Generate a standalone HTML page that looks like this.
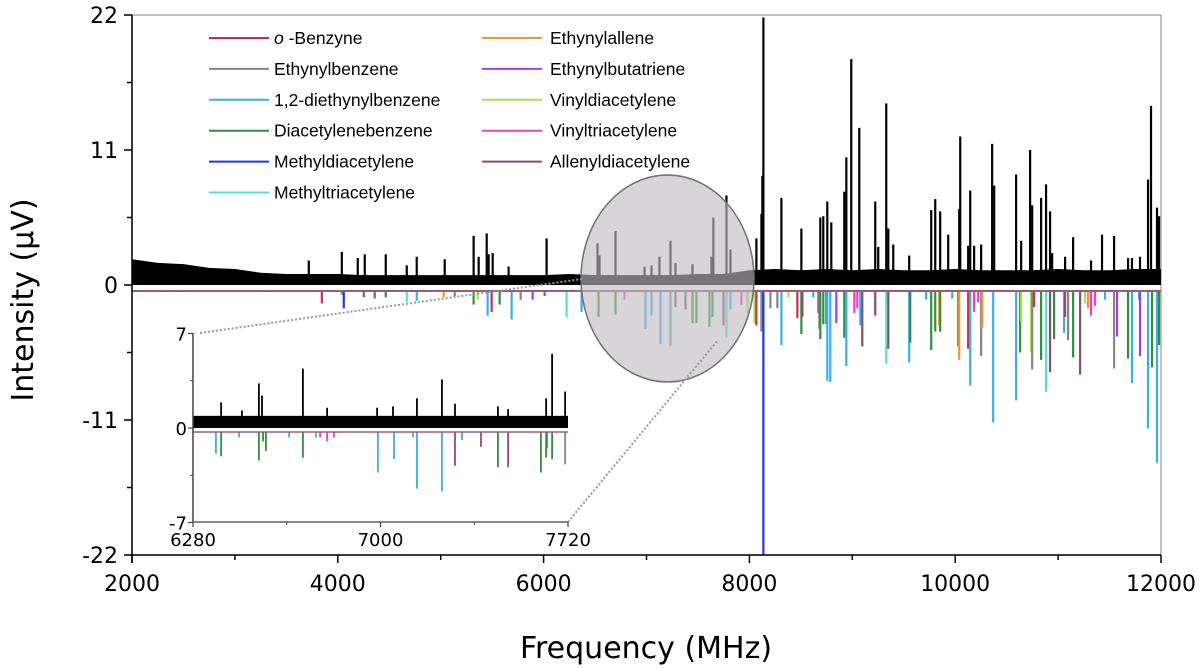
<!DOCTYPE html>
<html><head><meta charset="utf-8"><style>
html,body{margin:0;padding:0;background:#fff;}
svg{display:block;font-family:"Liberation Sans",sans-serif;}
.dj{font-family:"DejaVu Sans",sans-serif;}
</style></head><body>
<svg id="chart" width="1200" height="668" viewBox="0 0 1200 668" xmlns="http://www.w3.org/2000/svg">
<g id="legend"></g>
</svg>
<script>
// ---- data ----
const colorKeys = ["B","E","D","G","M","T","O","P","V","R","A"];
const seriesNames = ["o-Benzyne","Ethynylbenzene","1,2-diethynylbenzene","Diacetylenebenzene","Methyldiacetylene","Methyltriacetylene","Ethynylallene","Ethynylbutatriene","Vinyldiacetylene","Vinyltriacetylene","Allenyldiacetylene"];
const seriesColors = ["#c4314f","#858585","#3aaeea","#2f8f3f","#1f38e6","#52e0c9","#f2952c","#9b40f0","#a6e24c","#f23cc4","#8e4c6c"];
const xTicks = [2000,4000,6000,8000,10000,12000];
const yTicks = [22,11,0,-11,-22];
const insetXTicks = [6280,7000,7720];
const insetYTicks = [7,0,-7];
// noise envelope, every 250 MHz from 2000
const noiseEnv = [2.1,1.8,1.7,1.4,1.3,1.0,0.9,0.9,0.9,0.8,0.8,0.8,0.8,0.8,0.8,0.8,0.8,0.9,0.8,0.8,0.8,0.8,0.9,0.9,1.2,1.3,1.2,1.3,1.2,1.3,1.2,1.2,1.3,1.2,1.2,1.2,1.3,1.2,1.2,1.3,1.3];
const peakFreq = [3718,4039,4194,4262,4466,4670,4767,5039,5320,5369,5447,5466,5505,5660,6029,6524,6544,6699,6981,7049,7126,7233,7282,7447,7631,7650,7777,7816,8068,8117,8126,8136,8311,8505,8689,8718,8757,8796,8922,8942,8990,9068,9223,9252,9330,9350,9398,9553,9767,9806,9854,9932,10039,10049,10126,10146,10184,10252,10359,10379,10592,10641,10728,10748,10835,10883,10922,10942,11068,11146,11320,11427,11544,11680,11718,11796,11874,11903,11961,11981];
const peakInt = [2.0,2.7,2.2,2.5,2.5,1.6,2.3,2.1,4.0,2.3,4.2,2.5,2.6,1.5,3.8,3.4,2.4,4.4,1.5,1.6,2.3,3.6,1.8,1.7,2.3,5.5,7.3,2.9,3.8,5.8,8.9,21.8,7.1,4.6,5.5,5.6,6.8,5.1,7.6,10.4,18.4,12.8,6.8,3.1,14.8,4.6,3.3,2.4,6.1,7.0,6.0,4.1,6.2,12.1,3.2,7.7,3.2,3.3,11.5,8.1,9.0,3.6,11.0,6.5,7.1,8.2,6.0,2.6,2.3,3.9,2.0,4.1,4.0,2.2,2.2,2.3,8.6,14.6,6.3,5.6];
const stickFreq = [2300,2450,3300,3845,4039,4058,4252,4359,4466,4670,4767,5029,5136,5320,5359,5456,5495,5573,5689,5777,5893,6010,6223,6369,6534,6699,6786,6990,7049,7136,7233,7282,7379,7447,7485,7612,7641,7748,7777,7816,7922,7981,8049,8068,8117,8136,8204,8272,8311,8379,8466,8505,8515,8621,8670,8680,8689,8718,8748,8757,8786,8845,8922,8942,9020,9049,9078,9097,9223,9330,9350,9553,9563,9718,9767,9806,9845,9854,9971,10030,10039,10126,10146,10184,10223,10252,10262,10369,10592,10631,10641,10738,10748,10767,10835,10883,10922,10961,11058,11068,11097,11146,11214,11262,11291,11320,11359,11456,11544,11573,11680,11718,11787,11796,11874,11913,11961,11981];
const stickDepth = [0.4,0.4,0.4,1.5,0.8,1.9,1.0,1.1,1.0,1.4,1.3,1.0,0.9,1.6,1.2,2.5,2.2,1.6,2.8,1.2,1.2,0.9,2.6,2.2,2.6,2.4,1.2,3.6,2.5,4.8,5.0,1.8,2.0,3.1,3.1,3.4,2.6,3.3,4.3,2.0,1.6,2.3,3.1,3.3,3.8,22,1.9,1.9,4.9,1.0,2.7,4.0,2.6,1.0,2.3,3.6,4.4,3.2,3.2,7.8,7.9,3.1,4.3,6.6,2.3,1.9,3.3,5.0,2.5,6.4,5.2,6.3,4.7,1.2,5.3,3.8,3.3,3.8,1.1,5.0,6.1,5.2,8.2,2.2,1.4,5.8,3.5,11.2,9.4,5.5,3.0,5.5,6.9,1.8,6.1,8.7,7.1,4.4,3.9,2.6,4.5,5.9,7.3,1.5,1.9,2.5,1.7,1.2,6.8,4.2,6.0,8.0,1.2,5.8,11.7,6.7,14.5,4.9];
const stickSeries = ["D","D","D","B","D","M","G","G","G","T","D","O","E","G","V","D","B","G","D","E","P","P","T","D","G","G","R","D","D","D","D","A","A","G","G","G","G","A","T","D","R","V","V","B","E","M","E","E","D","V","B","G","A","D","P","E","G","G","G","D","D","P","G","D","R","R","D","A","A","T","A","D","G","D","G","G","O","G","D","G","O","B","D","R","R","E","O","D","D","G","V","V","E","B","G","T","A","G","D","A","E","G","A","V","O","R","R","D","E","P","G","D","D","P","D","G","D","G"];
const insetPeakFreq = [6388,6468,6533,6545,6702,6795,6987,7048,7140,7236,7286,7451,7490,7636,7659,7709];
const insetPeakInt = [1.9,1.3,3.3,2.4,4.4,1.5,1.5,1.6,2.2,3.6,1.8,1.6,1.4,2.2,5.5,2.7];
const insetStickFreq = [6368,6388,6457,6533,6549,6560,6649,6702,6752,6768,6795,6821,6990,7052,7125,7140,7236,7286,7313,7386,7451,7490,7616,7636,7639,7659,7709];
const insetStickDepth = [1.9,2.1,0.7,2.4,1.0,1.7,0.7,2.2,0.7,0.7,1.0,0.7,3.3,2.3,0.7,4.5,4.7,2.8,0.9,1.4,2.9,2.9,3.3,2.2,1.5,2.3,2.7];
const insetStickSeries = ["D","G","D","G","G","G","D","G","D","R","R","R","D","D","D","D","D","A","D","A","G","A","G","G","G","G","E"];

// ---- scales ----
const X0=132,X1=1161,Y0=15,Y1=555;
const xs = f => X0 + (f-2000)/10000*(X1-X0);
const ys = v => 285 - v*(Y1-Y0)/44;
const IX0=193,IX1=568;
const ixs = f => IX0 + (f-6280)/1440*(IX1-IX0);
const iys = v => 428 - v*13.5;
const colorOf = k => seriesColors[colorKeys.indexOf(k)];

const svg=document.getElementById('chart');
const NS="http://www.w3.org/2000/svg";
function mk(tag,attrs,parent){const e=document.createElementNS(NS,tag);for(const k in attrs)e.setAttribute(k,attrs[k]);(parent||svg).appendChild(e);return e;}

// frame
const frame=mk('rect',{x:X0,y:Y0,width:X1-X0,height:Y1-Y0,fill:'none',stroke:'#999','stroke-width':1.2});



// sticks (negative)
const sg=mk('g',{});


stickFreq.forEach((f,i)=>{
  const l=mk('line',{x1:xs(f),x2:xs(f),y1:291,y2:Math.min(ys(-stickDepth[i]),555),stroke:colorOf(stickSeries[i]),'stroke-width':2.2},sg);
  
  
});
const bl=mk('line',{x1:X0,x2:X1,y1:291,y2:291,stroke:'#9c5a7c','stroke-width':2});



// noise band
let pts=[[xs(2000),ys(0)]];
noiseEnv.forEach((v,i)=>pts.push([xs(2000+i*250),ys(v)]));
pts.push([xs(12000),ys(0)]);
const nb=mk('polygon',{points:pts.map(p=>p.join(',')).join(' '),fill:'#000'});


const pg=mk('g',{});


peakFreq.forEach((f,i)=>{
  const l=mk('line',{x1:xs(f),x2:xs(f),y1:ys(0),y2:ys(peakInt[i]),stroke:'#000','stroke-width':2.2},pg);
  
  
});

// zoom ellipse
const el=mk('ellipse',{cx:667.5,cy:278.5,rx:86.5,ry:103.5,fill:'rgba(190,188,190,0.62)',stroke:'#707070','stroke-width':1.5});


const d1=mk('line',{x1:200,y1:333,x2:582,y2:279,stroke:'#999','stroke-width':2,'stroke-dasharray':'2,2'});


const d2=mk('line',{x1:568,y1:522,x2:718,y2:340,stroke:'#999','stroke-width':2,'stroke-dasharray':'2,2'});



// main axes
const ax=mk('g',{stroke:'#000','stroke-width':1.5});


mk('line',{x1:X0,y1:Y0,x2:X0,y2:Y1+8},ax);
mk('line',{x1:X0,y1:Y1,x2:X1,y2:Y1},ax);
yTicks.forEach((v,i)=>{
  mk('line',{x1:X0-8,x2:X0,y1:ys(v),y2:ys(v)},ax);
  if(i<yTicks.length-1) mk('line',{x1:X0-5,x2:X0,y1:ys(v-5.5),y2:ys(v-5.5)},ax);
  const t=mk('text',{x:X0-14,y:ys(v)+8,'text-anchor':'end','font-size':22,fill:'#000',stroke:'none','class':'dj'});
  t.textContent=v;
  
  
});
xTicks.forEach((v,i)=>{
  mk('line',{x1:xs(v),x2:xs(v),y1:Y1,y2:Y1+8},ax);
  if(i<xTicks.length-1) mk('line',{x1:xs(v+1000),x2:xs(v+1000),y1:Y1,y2:Y1+5},ax);
  const t=mk('text',{x:xs(v),y:Y1+36,'text-anchor':'middle','font-size':22,fill:'#000',stroke:'none','class':'dj'});
  t.textContent=v;
  
  
});
const xt=mk('text',{x:646,y:658,'text-anchor':'middle','font-size':30,fill:'#000','class':'dj'});
xt.textContent='Frequency (MHz)';


const yt=mk('text',{x:0,y:0,'text-anchor':'middle','font-size':30,fill:'#000','class':'dj',transform:'translate(33,300) rotate(-90)'});
yt.textContent='Intensity (\u00b5V)';



// inset
const ig=mk('g',{});


insetStickFreq.forEach((f,i)=>{
  const l=mk('line',{x1:ixs(f),x2:ixs(f),y1:432,y2:iys(-insetStickDepth[i]),stroke:colorOf(insetStickSeries[i]),'stroke-width':1.8},ig);
  
  
});
mk('line',{x1:IX0,x2:IX1,y1:432,y2:432,stroke:'#9c5a7c','stroke-width':1.5},ig);
mk('rect',{x:IX0,y:iys(0.9),width:IX1-IX0,height:iys(0)-iys(0.9),fill:'#000'},ig);
insetPeakFreq.forEach((f,i)=>{
  const l=mk('line',{x1:ixs(f),x2:ixs(f),y1:iys(0),y2:iys(insetPeakInt[i]),stroke:'#000','stroke-width':1.8},ig);
  
  
});
mk('line',{x1:IX0,y1:333,x2:IX0,y2:522,stroke:'#444','stroke-width':1.5},ig);
mk('line',{x1:IX0,y1:522,x2:IX1,y2:522,stroke:'#888','stroke-width':2},ig);
insetYTicks.forEach((v,i)=>{
  mk('line',{x1:IX0-5,x2:IX0,y1:iys(v),y2:iys(v),stroke:'#444','stroke-width':1.2},ig);
  if(i<insetYTicks.length-1) mk('line',{x1:IX0-3,x2:IX0,y1:iys(v-3.5),y2:iys(v-3.5),stroke:'#444','stroke-width':1},ig);
  const t=mk('text',{x:IX0-6,y:iys(v)+7,'text-anchor':'end','font-size':18,fill:'#000','class':'dj'},ig);
  t.textContent=v;
  
  
});
insetXTicks.forEach((v,i)=>{
  mk('line',{x1:ixs(v),x2:ixs(v),y1:522,y2:527,stroke:'#444','stroke-width':1.2},ig);
  if(i<insetXTicks.length-1) mk('line',{x1:ixs(v+360),x2:ixs(v+360),y1:522,y2:525,stroke:'#444','stroke-width':1},ig);
  const t=mk('text',{x:ixs(v),y:546,'text-anchor':'middle','font-size':18,fill:'#000','class':'dj'},ig);
  t.textContent=v;
  
  
});

// legend
const lg=document.getElementById('legend');
svg.appendChild(lg);
seriesNames.forEach((n,i)=>{
  const col = i<6?0:1, row = i<6?i:i-6;
  const lx = col?482:209, ly = 38+row*30.9;
  const e=mk('g',{},lg);
  
  
  mk('line',{x1:lx,x2:lx+60,y1:ly,y2:ly,stroke:seriesColors[i],'stroke-width':2},e);
  const t=mk('text',{x:lx+(col?68:65),y:ly+6,'font-size':17.5,fill:'#000'},e);
  if(i===0){t.innerHTML='<tspan font-style="italic">o</tspan> -Benzyne';}
  else t.textContent=n;
});
</script>
</body></html>
